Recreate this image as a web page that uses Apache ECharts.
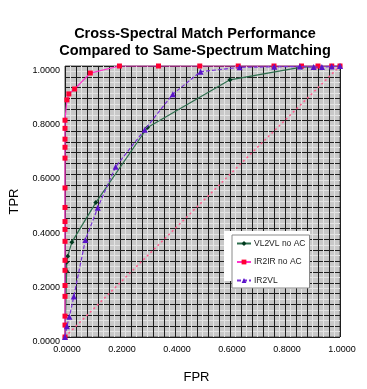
<!DOCTYPE html>
<html><head><meta charset="utf-8">
<script src="https://cdn.jsdelivr.net/npm/echarts@6/dist/echarts.min.js"></script>
<style>html,body{margin:0;padding:0;background:#fff}#c{width:367px;height:389px}</style>
</head><body><div id="c"></div>
<script>
// ---- data ----
const seriesNames = ['VL2VL no AC', 'IR2IR no AC', 'IR2VL'];
const xTickLabels = ['0.0000', '0.2000', '0.4000', '0.6000', '0.8000', '1.0000'];
const yTickLabels = ['0.0000', '0.2000', '0.4000', '0.6000', '0.8000', '1.0000'];

const vlFpr = [0, 0.006, 0.006, 0.010, 0.025, 0.112, 0.300, 0.600, 0.860, 1.000];
const vlTpr = [0, 0.243, 0.276, 0.298, 0.350, 0.496, 0.773, 0.949, 0.996, 1.000];

const irFpr = [0, 0, 0, 0, 0, 0, 0, 0, 0, 0, 0, 0, 0, 0, 0, 0, 0, 0.007, 0.014, 0.035, 0.092, 0.198, 0.340, 0.490, 0.630, 0.760, 0.860, 0.920, 0.970, 1.000];
const irTpr = [0, 0.044, 0.077, 0.150, 0.190, 0.246, 0.283, 0.353, 0.397, 0.426, 0.478, 0.550, 0.660, 0.700, 0.730, 0.770, 0.800, 0.875, 0.897, 0.915, 0.974, 1.000, 1.000, 1.000, 1.000, 1.000, 1.000, 1.000, 1.000, 1.000];

const ivFpr = [0, 0.007, 0.016, 0.032, 0.074, 0.119, 0.184, 0.290, 0.392, 0.493, 0.635, 0.761, 0.854, 0.904, 0.934, 0.970, 1.000];
const ivTpr = [0, 0.040, 0.075, 0.149, 0.358, 0.477, 0.628, 0.765, 0.896, 0.979, 0.995, 0.997, 0.998, 0.996, 0.996, 0.998, 1.000];

const chanceFpr = [0, 1];
const chanceTpr = [0, 1];

// ---- build ----
const zip = (a, b) => a.map((v, i) => [v, b[i]]);
const FONT = '"Liberation Sans", Arial, sans-serif';
function tickFmt(labels) {
  return function (v) {
    const k = Math.round(v / 0.2);
    return Math.abs(v - k * 0.2) < 1e-6 ? labels[k] : '';
  };
}
const axisCommon = {
  type: 'value', min: 0, max: 1, interval: 0.04,
  axisLine: { show: false }, axisTick: { show: false },
  splitLine: { show: true, lineStyle: { color: '#1e1e1e', width: 1 } },
  minorTick: { show: false, splitNumber: 2 },
  minorSplitLine: { show: true, lineStyle: { color: '#e4e4e4', width: 1 } }
};
const chart = echarts.init(document.getElementById('c'), null, { renderer: 'canvas' });
chart.setOption({
  animation: false,
  backgroundColor: '#fff',
  title: {
    text: 'Cross-Spectral Match Performance\nCompared to Same-Spectrum Matching',
    left: 190, top: 20, textAlign: 'center',
    textStyle: { fontFamily: FONT, fontWeight: 'bold', fontSize: 14.5, lineHeight: 17, color: '#000' }
  },
  grid: { left: 57, top: 66, right: 27, bottom: 51, show: true, backgroundColor: '#c8c8c8', borderColor: '#555', borderWidth: 1 },
  xAxis: Object.assign({}, axisCommon, {
    name: 'FPR', nameLocation: 'middle', nameGap: 34,
    nameTextStyle: { fontFamily: FONT, fontSize: 13, color: '#000', padding: [0, 12, 0, 0] },
    axisLabel: { formatter: tickFmt(xTickLabels), fontFamily: FONT, fontSize: 9, color: '#000', margin: 8, padding: [0, 0, 0, 4] }
  }),
  yAxis: Object.assign({}, axisCommon, {
    name: 'TPR', nameLocation: 'middle', nameGap: 44,
    nameTextStyle: { fontFamily: FONT, fontSize: 13, color: '#000' },
    axisLabel: { formatter: tickFmt(yTickLabels), fontFamily: FONT, fontSize: 9, color: '#000', margin: 5, verticalAlign: 'top' }
  }),
  graphic: [{
    type: 'rect', left: 224, top: 231, z: 3,
    shape: { width: 86, height: 50 }, style: { fill: '#fff' }
  }],
  legend: {
    data: seriesNames, orient: 'vertical', left: 232, top: 235, z: 4,
    backgroundColor: '#fff', borderColor: '#8a8a8a', borderWidth: 1, borderRadius: 0,
    padding: [4, 4, 3, 4], itemWidth: 14, itemHeight: 6, itemGap: 9.5,
    textStyle: { fontFamily: FONT, fontSize: 8.5, color: '#222', padding: [0, 0, 0, -2] }
  },
  series: [
    {
      name: 'Chance', type: 'line', data: zip(chanceFpr, chanceTpr), symbol: 'none', silent: true, z: 1,
      lineStyle: { color: '#ff5a8c', width: 1.5, type: [2, 3] }
    },
    {
      name: seriesNames[0], type: 'line', data: zip(vlFpr, vlTpr), symbol: 'diamond', symbolSize: 5, z: 3,
      itemStyle: { color: '#003a1e' }, lineStyle: { color: '#2e6e4e', width: 1.2 }
    },
    {
      name: seriesNames[1], type: 'line', data: zip(irFpr, irTpr), symbol: 'rect', symbolSize: 5, z: 4,
      itemStyle: { color: '#ff0033' }, lineStyle: { color: '#ff33cc', width: 1.2 }
    },
    {
      name: seriesNames[2], type: 'line', data: zip(ivFpr, ivTpr), symbol: 'triangle', symbolSize: 6, z: 5,
      itemStyle: { color: '#5a14c8' }, lineStyle: { color: '#7a30d8', width: 1.2, type: [4, 2] }
    }
  ]
});
</script></body></html>
